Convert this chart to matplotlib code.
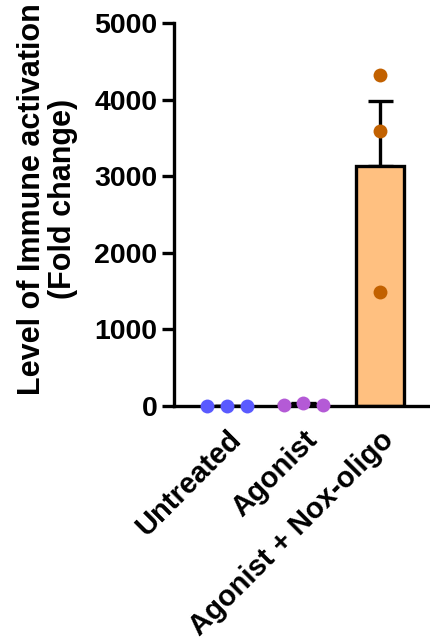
import matplotlib.pyplot as plt
import numpy as np

plt.rcParams['font.family'] = ['Liberation Sans', 'DejaVu Sans']
plt.rcParams['font.weight'] = 'bold'

# data
groups = ['Untreated', 'Agonist', 'Agonist + Nox-oligo']
untreated = [1, 1, 1]
agonist = [8, 45, 12]
agonist_nox = [4320, 3590, 1490]
replicates = [untreated, agonist, agonist_nox]
dot_colors = ['#5a5aff', '#b45ad6', '#c26100']
bar_colors = ['#ffffff', '#ffffff', '#ffc080']
yticks = [0, 1000, 2000, 3000, 4000, 5000]

fig = plt.figure(figsize=(4.31, 6.4), dpi=100)
ax = fig.add_axes([0.4037, 0.3656, 0.5963, 0.5984])

x = np.arange(1, len(groups) + 1)
means = [np.mean(r) for r in replicates]
sems = [np.std(r, ddof=1) / np.sqrt(len(r)) for r in replicates]

ax.bar(x, means, width=0.63, color=bar_colors, edgecolor='black',
       linewidth=2.4, zorder=2)
# only the upward half of the error bar, GraphPad style
ax.errorbar(x, means, yerr=[np.zeros(len(x)), sems], fmt='none',
            ecolor='black', elinewidth=2.4, capsize=9, capthick=2.4, zorder=1)

# small groups get spread sideways, the tall one stays stacked
spread = [0.26, 0.26, 0.0]
for xi, vals, c, sp in zip(x, replicates, dot_colors, spread):
    ax.plot(xi + np.array([-sp, 0, sp]), vals, 'o', color=c, markersize=10,
            markeredgewidth=0, zorder=3, clip_on=False)

ax.set_xlim(0.307, 3.67)
ax.set_ylim(0, 5000)
ax.set_yticks(yticks)
ax.set_xticks(x)
ax.set_xticklabels(groups, rotation=45, ha='right', rotation_mode='anchor')

for s in ['top', 'right']:
    ax.spines[s].set_visible(False)
for s in ['left', 'bottom']:
    ax.spines[s].set_linewidth(2.4)

ax.tick_params(axis='y', length=9, width=2.4, labelsize=20.5, pad=3)
ax.tick_params(axis='x', length=0, labelsize=21, pad=14)

ax.set_ylabel('Level of Immune activation\n(Fold change)', fontsize=22,
              fontweight='bold', linespacing=1.05)
ax.yaxis.set_label_coords(-0.374, 0.54)

fig.savefig('out.png', dpi=100)
